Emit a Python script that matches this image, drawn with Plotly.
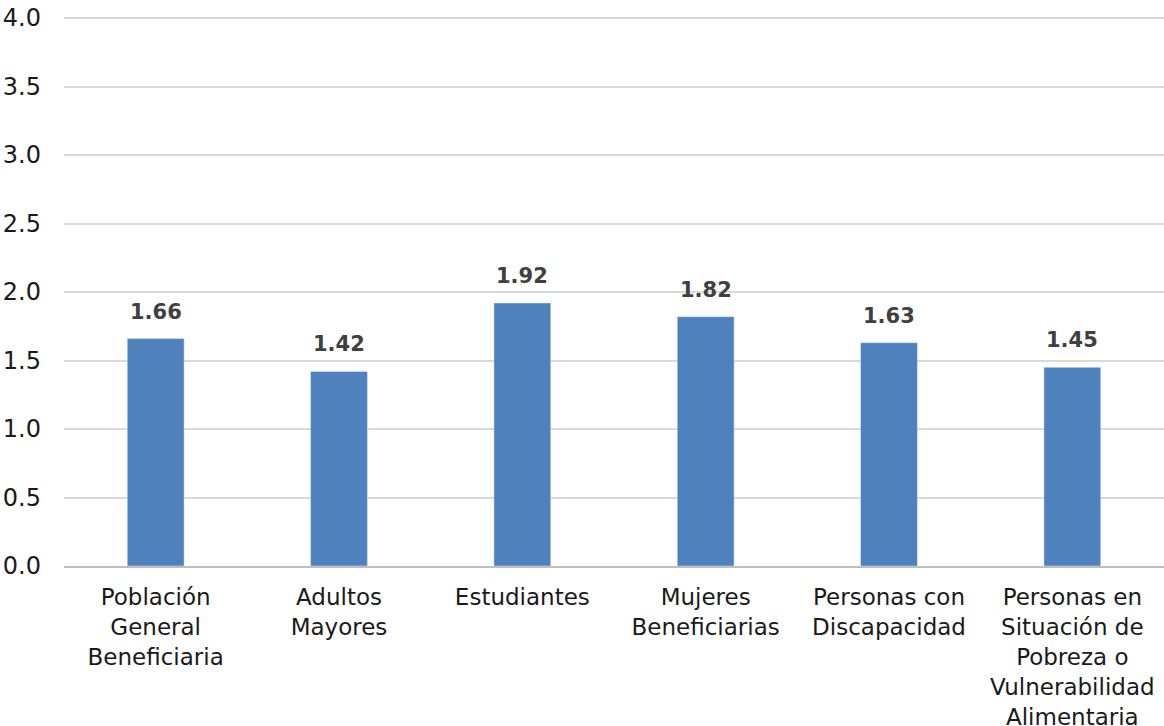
import plotly.graph_objects as go

categories = [
    "Población<br>General<br>Beneficiaria",
    "Adultos<br>Mayores",
    "Estudiantes",
    "Mujeres<br>Beneficiarias",
    "Personas con<br>Discapacidad",
    "Personas en<br>Situación de<br>Pobreza o<br>Vulnerabilidad<br>Alimentaria",
]
values = [1.66, 1.42, 1.92, 1.82, 1.63, 1.45]
value_labels = ["1.66", "1.42", "1.92", "1.82", "1.63", "1.45"]
y_ticks = [0, 0.5, 1.0, 1.5, 2.0, 2.5, 3.0, 3.5, 4.0]

FONT = "DejaVu Sans"

fig = go.Figure(
    go.Bar(
        x=categories,
        y=values,
        marker=dict(color="#4F81BD"),
        hoverinfo="x+y",
    )
)

for c, v, t in zip(categories, values, value_labels):
    fig.add_annotation(
        x=c, y=v, text=t, showarrow=False,
        yanchor="middle", yshift=27,
        font=dict(family=FONT, size=21, color="#404040", weight="bold"),
    )

fig.update_layout(
    width=1164,
    height=726,
    margin=dict(l=64, r=0, t=16, b=160),
    paper_bgcolor="white",
    plot_bgcolor="white",
    bargap=0.69,
    showlegend=False,
    font=dict(family=FONT, size=23, color="#1a1a1a"),
)

fig.update_yaxes(
    range=[0, 4.015],
    tickvals=y_ticks,
    ticktext=[f"{v:.1f}" for v in y_ticks],
    showgrid=True,
    gridcolor="#D9D9D9",
    gridwidth=1.5,
    zeroline=False,
    showline=False,
    ticks="",
    automargin=False,
    ticklabelstandoff=22,
    tickfont=dict(family=FONT, size=24, color="#1a1a1a"),
)

fig.update_xaxes(
    showline=True,
    linecolor="#BFBFBF",
    linewidth=1.5,
    ticks="",
    automargin=False,
    ticklabelstandoff=10,
    tickangle=0,
    tickfont=dict(family=FONT, size=23, color="#1a1a1a"),
)

fig.write_html(
    "out.html",
    config={"displayModeBar": False},
    post_script="document.body.style.margin='0px';document.body.style.overflow='hidden';",
)
